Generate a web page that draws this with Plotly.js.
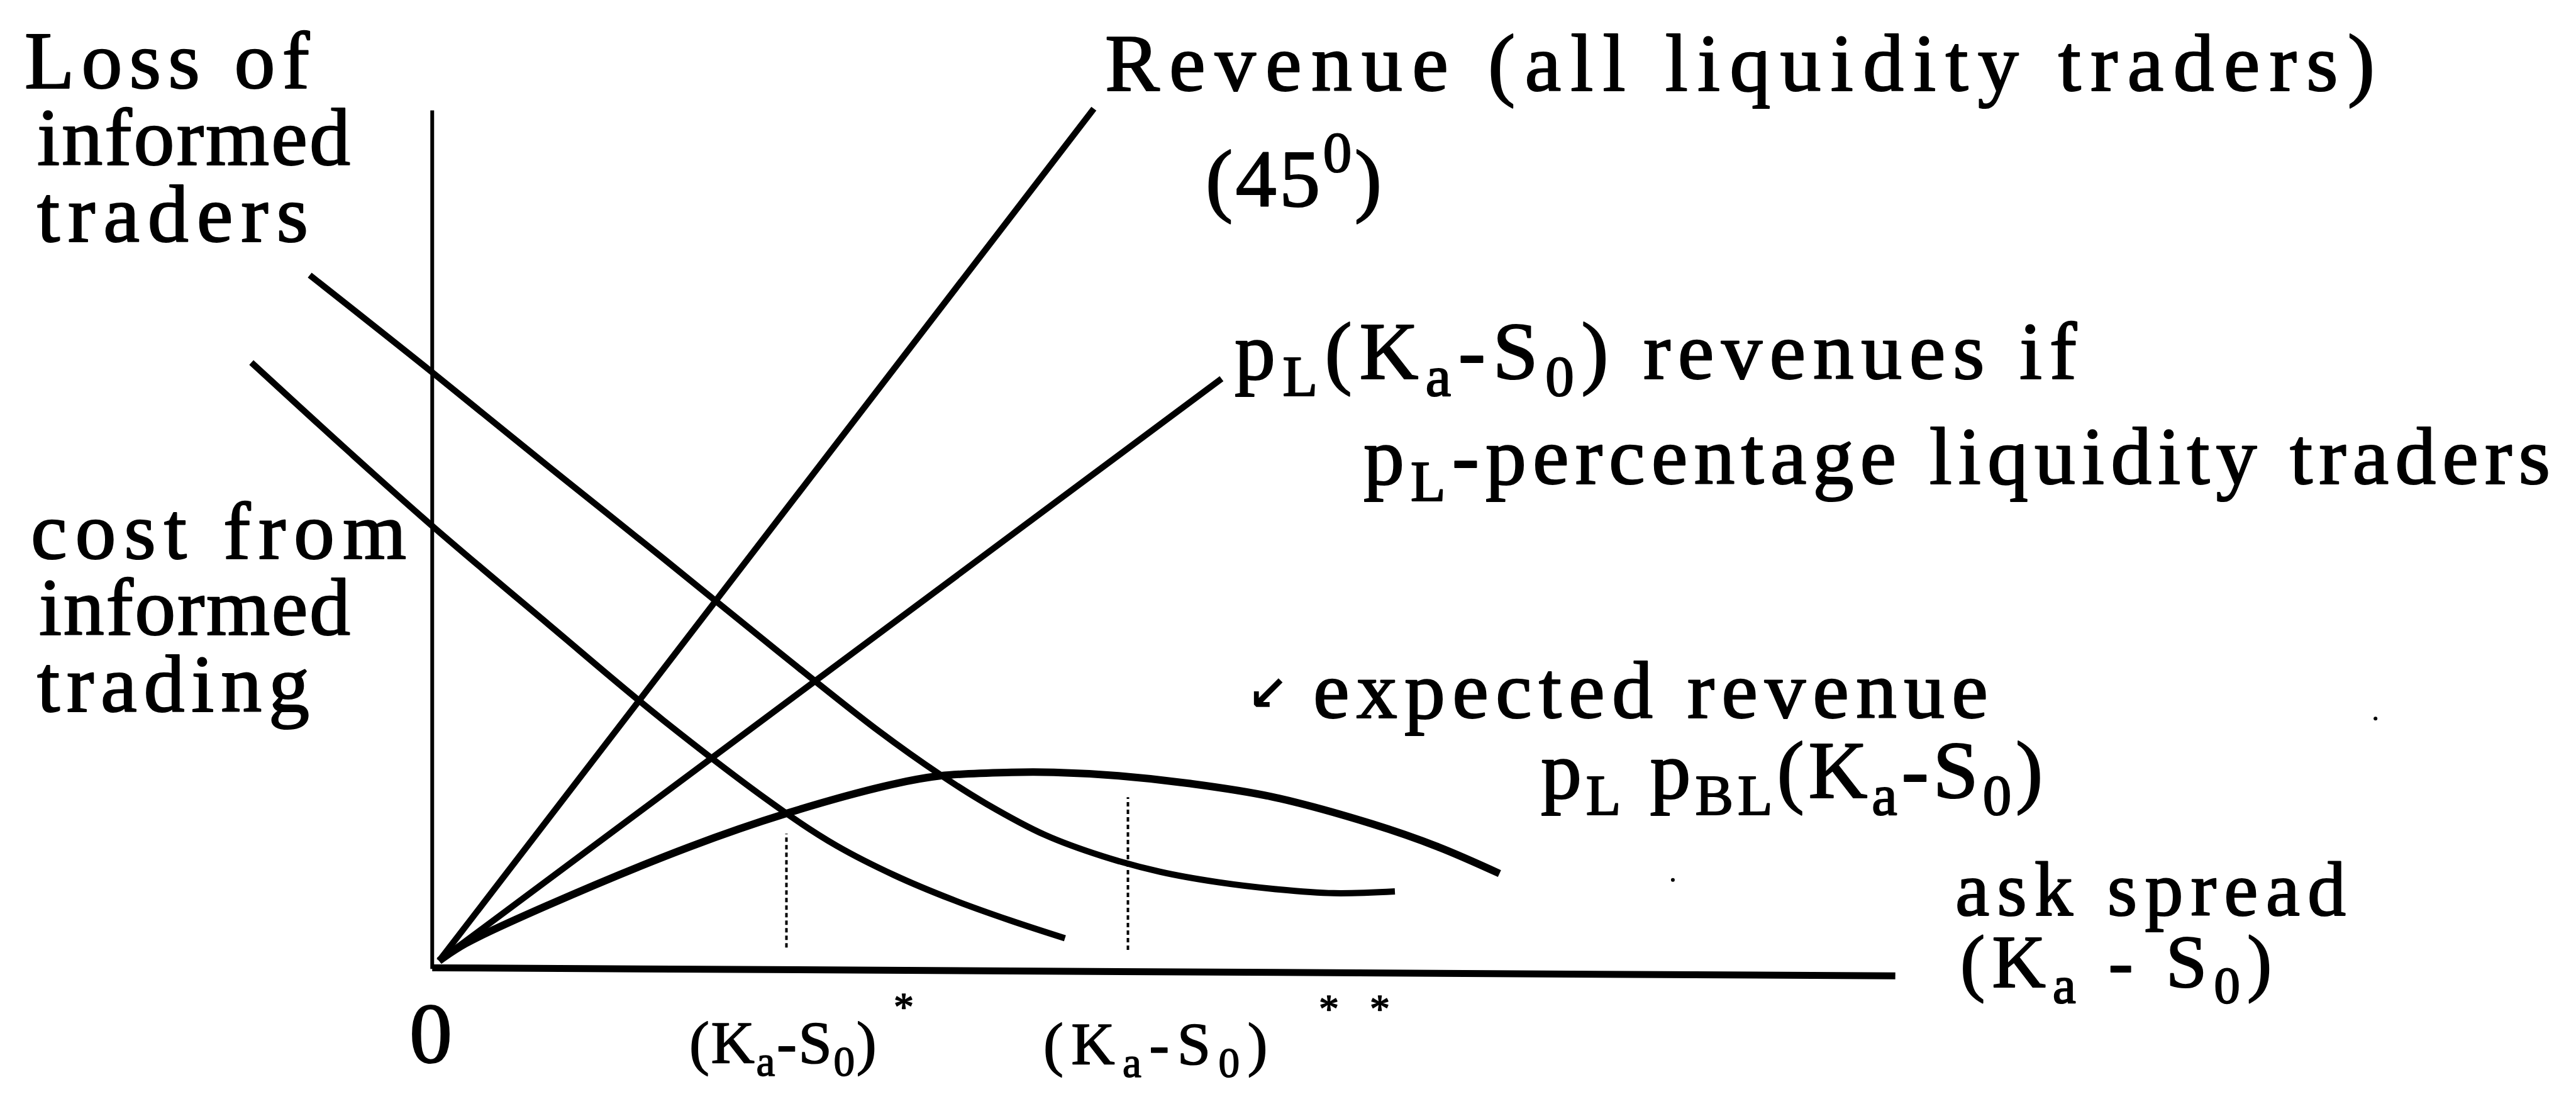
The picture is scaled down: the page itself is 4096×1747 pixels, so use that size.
<!DOCTYPE html>
<html>
<head>
<meta charset="utf-8">
<script src="https://cdn.plot.ly/plotly-3.0.1.min.js"></script>
<style>html,body{margin:0;padding:0;background:#fff;overflow:hidden}</style>
</head>
<body>
<div id="chart" style="width:4096px;height:1747px"></div>
<script>
// ---------------- data (x = ask spread units, y = value units) ----------------
const lossX = [-2.12, 0.00, 2.00, 4.00, 6.00, 7.72, 8.79, 9.60, 10.60, 11.60, 12.60, 13.60, 14.60, 15.60, 16.66];
const lossY = [12.00, 10.32, 8.70, 7.10, 5.48, 4.12, 3.36, 2.85, 2.32, 1.95, 1.68, 1.50, 1.38, 1.31, 1.34];

const costX = [-3.13, -1.50, -0.02, 2.00, 4.00, 6.13, 7.00, 8.00, 9.00, 10.00, 10.95];
const costY = [10.49, 9.00, 7.68, 5.97, 4.30, 2.69, 2.13, 1.62, 1.20, 0.84, 0.53];

const revenueX = [0.12, 11.45];
const revenueY = [0.14, 14.88];

const pLRevenueX = [0.12, 13.66];
const pLRevenueY = [0.14, 10.21];

const expRevX = [0.12, 0.58, 2.02, 4.45, 6.13, 7.95, 8.79, 10.02, 10.76, 11.88, 13.09, 14.52, 16.26, 17.41, 18.47];
const expRevY = [0.14, 0.44, 1.11, 2.11, 2.69, 3.19, 3.34, 3.40, 3.40, 3.34, 3.21, 2.98, 2.51, 2.11, 1.65];

const kStarX = [6.13, 6.13];
const kStarY = [0.37, 2.34];
const kStarStarX = [12.04, 12.04];
const kStarStarY = [0.33, 2.97];

const xAxisX = [0, 25.32];
const xAxisY = [0.02, -0.12];
const yAxisX = [0, 0];
const yAxisY = [0, 14.85];

const speckX = [33.63, 21.47];
const speckY = [4.33, 1.54];

const labelTexts = [
  "Loss of", "informed", "traders",
  "cost from", "informed", "trading",
  "0",
  "Revenue (all liquidity traders)",
  "(45<sup>0</sup>)",
  "p<sub>L</sub>(K<sub>a</sub>-S<sub>0</sub>) revenues if",
  "p<sub>L</sub>-percentage liquidity traders",
  "expected revenue",
  "p<sub>L</sub> p<sub>BL</sub>(K<sub>a</sub>-S<sub>0</sub>)",
  "ask spread",
  "(K<sub>a</sub> - S<sub>0</sub>)",
  "(K<sub>a</sub>-S<sub>0</sub>)",
  "(K<sub>a</sub>-S<sub>0</sub>)",
  "*", "* *",
  "<b>\u2199</b>"
];

// ---------------- layout of the labels (left x, baseline y in axis units, font px, target width px, kind) ----------------
const labelPos = [
  [-7.06, 15.24, 130, 453, 'n'],
  [-6.84, 13.91, 130, 498, 'n'],
  [-6.84, 12.58, 130, 431, 'n'],
  [-6.95, 7.10, 130, 597, 'n'],
  [-6.81, 5.78, 130, 495, 'n'],
  [-6.84, 4.46, 130, 433, 'n'],
  [-0.03, -1.62, 136, 0, 'c'],
  [11.64, 15.20, 130, 2019, 'n'],
  [13.38, 13.20, 130, 289, 's'],
  [13.88, 10.21, 130, 1408, 'n'],
  [16.12, 8.39, 130, 1907, 'n'],
  [15.25, 4.35, 130, 1073, 'n'],
  [19.19, 2.96, 130, 853, 'n'],
  [26.36, 0.93, 122, 621, 'n'],
  [26.44, -0.31, 118, 540, 'n'],
  [4.45, -1.63, 96, 308, 'n'],
  [10.58, -1.65, 96, 406, 'n'],
  [8.16, -0.89, 64, 0, 'c'],
  [15.34, -0.92, 64, 113, 'n'],
  [14.10, 4.47, 78, 0, 'a']
];

const PX = 91.88;           // rendered pixels per axis unit
const SERIF = '"Liberation Serif", "Times New Roman", serif';

function curve(x, y, w, shape) {
  return {x: x, y: y, type: 'scatter', mode: 'lines', hoverinfo: 'skip',
          line: {color: '#000', width: w, shape: shape || 'linear', smoothing: 1}};
}

const traces = [
  curve(yAxisX, yAxisY, 6),
  curve(xAxisX, xAxisY, 11),
  curve(revenueX, revenueY, 10),
  curve(pLRevenueX, pLRevenueY, 10),
  curve(lossX, lossY, 10, 'spline'),
  curve(costX, costY, 10, 'spline'),
  curve(expRevX, expRevY, 12, 'spline'),
  {x: kStarX, y: kStarY, type: 'scatter', mode: 'lines', hoverinfo: 'skip',
   line: {color: '#000', width: 4, dash: '7px,5px'}},
  {x: kStarStarX, y: kStarStarY, type: 'scatter', mode: 'lines', hoverinfo: 'skip',
   line: {color: '#000', width: 4, dash: '7px,5px'}},
  {x: speckX, y: speckY, type: 'scatter', mode: 'markers', hoverinfo: 'skip',
   marker: {color: '#000', size: 6}}
];

const annotations = labelTexts.map(function (t, i) {
  const p = labelPos[i];
  const s = p[2];
  const A = p[4] === 's' ? 1.04 : (p[4] === 'a' ? 0.93 : 0.891);
  const isArrow = p[4] === 'a';
  return {
    x: p[0] - (p[4] === 'c' ? 0 : 2 / PX),
    y: p[1] + (A * s + 2) / PX,
    xref: 'x', yref: 'y',
    xanchor: p[4] === 'c' ? 'center' : 'left',
    yanchor: 'top',
    align: 'left',
    showarrow: false,
    text: t,
    font: {family: isArrow ? '"DejaVu Sans", sans-serif' : SERIF, size: s, color: '#000'}
  };
});

const layout = {
  width: 4096, height: 1747,
  margin: {l: 0, r: 0, t: 0, b: 0, pad: 0},
  paper_bgcolor: '#fff', plot_bgcolor: '#fff',
  showlegend: false,
  xaxis: {range: [-7.48, 37.10], visible: false, showgrid: false, zeroline: false, fixedrange: true},
  yaxis: {range: [-2.25, 16.76], visible: false, showgrid: false, zeroline: false, fixedrange: true},
  annotations: annotations
};

Plotly.newPlot('chart', traces, layout, {displayModeBar: false, staticPlot: true}).then(function (gd) {
  const groups = Array.prototype.slice.call(gd.querySelectorAll('.annotation'));
  groups.forEach(function (g) {
    const idx = +g.getAttribute('data-index');
    const p = labelPos[idx];
    if (!p) return;
    const node = g.querySelector('.annotation-text');
    if (!node) return;
    if (p[4] !== 'a') {
      node.style.stroke = '#000';
      node.style.strokeWidth = (p[2] >= 100 ? 2.2 : 1.6) + 'px';
      node.style.strokeLinejoin = 'round';
    }
    const target = p[3];
    if (!target) return;
    const n = node.textContent.length;
    const natural = node.getComputedTextLength();
    const ls = (target - natural) / Math.max(1, n - 1);
    node.style.letterSpacing = ls.toFixed(2) + 'px';
  });
});
</script>
</body>
</html>
